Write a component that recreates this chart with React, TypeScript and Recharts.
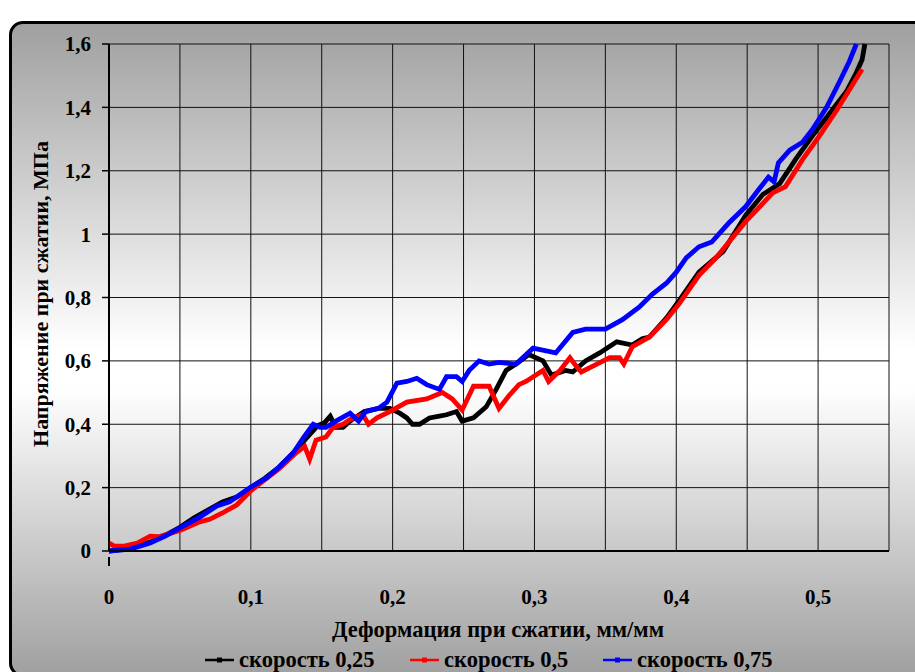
import React from 'react';
import { LineChart, Line, XAxis, YAxis, CartesianGrid } from 'recharts';

const FONT = '"Liberation Serif", "Times New Roman", serif';

const xTicks = [0, 0.05, 0.1, 0.15, 0.2, 0.25, 0.3, 0.35, 0.4, 0.45, 0.5, 0.55];
const yTicks = [0, 0.2, 0.4, 0.6, 0.8, 1, 1.2, 1.4, 1.6];

const xTitle = 'Деформация при сжатии, мм/мм';
const yTitle = 'Напряжение при сжатии, МПа';
const seriesNames = ['скорость 0,25', 'скорость 0,5', 'скорость 0,75'];
const seriesColors = ['#000000', '#ff0000', '#0000ff'];

// скорость 0,25
const blackX = [0, 0.01, 0.02, 0.03, 0.04, 0.05, 0.06, 0.07, 0.08, 0.09, 0.1, 0.11, 0.12, 0.13, 0.14, 0.147, 0.152, 0.156, 0.16, 0.165, 0.17, 0.18, 0.19, 0.198, 0.205, 0.21, 0.214, 0.219, 0.226, 0.232, 0.238, 0.245, 0.249, 0.257, 0.266, 0.273, 0.28, 0.287, 0.296, 0.306, 0.312, 0.322, 0.327, 0.336, 0.346, 0.358, 0.369, 0.376, 0.381, 0.393, 0.402, 0.416, 0.433, 0.449, 0.461, 0.473, 0.484, 0.496, 0.508, 0.52, 0.527, 0.531, 0.533];
const blackY = [0, 0.005, 0.015, 0.03, 0.05, 0.075, 0.105, 0.13, 0.155, 0.17, 0.2, 0.23, 0.265, 0.31, 0.36, 0.395, 0.405, 0.425, 0.39, 0.39, 0.41, 0.44, 0.45, 0.45, 0.435, 0.42, 0.4, 0.4, 0.42, 0.425, 0.43, 0.44, 0.41, 0.42, 0.455, 0.51, 0.57, 0.59, 0.62, 0.6, 0.555, 0.57, 0.565, 0.6, 0.625, 0.66, 0.65, 0.67, 0.675, 0.735, 0.79, 0.88, 0.945, 1.06, 1.125, 1.16, 1.235, 1.31, 1.38, 1.45, 1.51, 1.55, 1.6];

// скорость 0,5
const redX = [0, 0.004, 0.01, 0.02, 0.029, 0.035, 0.05, 0.064, 0.071, 0.08, 0.09, 0.1, 0.11, 0.12, 0.132, 0.138, 0.1415, 0.146, 0.153, 0.158, 0.165, 0.17, 0.179, 0.183, 0.189, 0.198, 0.21, 0.224, 0.235, 0.242, 0.249, 0.257, 0.268, 0.275, 0.282, 0.289, 0.294, 0.306, 0.31, 0.318, 0.325, 0.33, 0.333, 0.344, 0.353, 0.36, 0.363, 0.369, 0.381, 0.393, 0.402, 0.416, 0.428, 0.449, 0.468, 0.477, 0.489, 0.501, 0.513, 0.522, 0.531];
const redY = [0.025, 0.015, 0.015, 0.025, 0.047, 0.045, 0.065, 0.092, 0.1, 0.12, 0.145, 0.19, 0.225, 0.26, 0.31, 0.33, 0.29, 0.35, 0.36, 0.39, 0.4, 0.415, 0.43, 0.4, 0.42, 0.44, 0.47, 0.48, 0.5, 0.48, 0.445, 0.52, 0.52, 0.45, 0.49, 0.525, 0.535, 0.57, 0.535, 0.57, 0.61, 0.58, 0.565, 0.59, 0.61, 0.61, 0.59, 0.645, 0.675, 0.73, 0.78, 0.87, 0.925, 1.04, 1.13, 1.15, 1.235, 1.31, 1.39, 1.455, 1.52];

// скорость 0,75
const blueX = [0, 0.015, 0.029, 0.04, 0.05, 0.064, 0.076, 0.085, 0.099, 0.111, 0.12, 0.13, 0.137, 0.144, 0.149, 0.153, 0.16, 0.17, 0.176, 0.181, 0.19, 0.196, 0.203, 0.21, 0.217, 0.224, 0.233, 0.238, 0.245, 0.249, 0.254, 0.261, 0.268, 0.275, 0.287, 0.299, 0.315, 0.327, 0.336, 0.35, 0.362, 0.374, 0.383, 0.393, 0.4, 0.407, 0.416, 0.425, 0.437, 0.449, 0.458, 0.465, 0.469, 0.472, 0.48, 0.489, 0.496, 0.506, 0.515, 0.522, 0.527];
const blueY = [0, 0.006, 0.025, 0.048, 0.073, 0.107, 0.142, 0.155, 0.199, 0.23, 0.265, 0.31, 0.357, 0.4, 0.39, 0.39, 0.41, 0.435, 0.41, 0.44, 0.45, 0.47, 0.53, 0.535, 0.545, 0.525, 0.51, 0.55, 0.55, 0.535, 0.57, 0.6, 0.59, 0.595, 0.59, 0.64, 0.625, 0.69, 0.7, 0.7, 0.73, 0.77, 0.81, 0.845, 0.88, 0.925, 0.96, 0.975, 1.035, 1.087, 1.14, 1.18, 1.165, 1.225, 1.265, 1.29, 1.33, 1.4, 1.48, 1.545, 1.6];

const toPoints = (xs: number[], ys: number[]) => xs.map((x, i) => ({ x, y: ys[i] }));
const series = [toPoints(blackX, blackY), toPoints(redX, redY), toPoints(blueX, blueY)];

const fmt = (v: number) => String(Number(v.toFixed(2))).replace('.', ',');

const XTick = (props: any) => {
  const { x, y, payload } = props;
  const v = payload.value;
  const major = Math.abs(Math.round(v * 10) - v * 10) < 1e-6 && v < 0.55;
  if (!major) return null;
  return (
    <g>
      {v === 0 && <line x1={x} x2={x} y1={y - 2} y2={y + 7} stroke="#000" strokeWidth={2} />}
      <text x={x} y={y + 45} textAnchor="middle" fontFamily={FONT} fontWeight="bold" fontSize={21} fill="#000">
        {fmt(v)}
      </text>
    </g>
  );
};

const legendPos = [
  { icon: 205, text: 239 },
  { icon: 410, text: 444 },
  { icon: 603, text: 637 },
];

export default function App() {
  return (
    <div style={{ position: 'absolute', left: 0, top: 0, width: 915, height: 672, overflow: 'hidden', background: '#fff' }}>
      <div
        style={{
          position: 'absolute',
          left: 9,
          top: 21,
          width: 930,
          height: 650,
          border: '3px solid #000',
          borderRadius: 14,
          background: 'linear-gradient(to bottom, #a0a0a0 0%, #ffffff 50%, #ffffff 56%, #a0a0a0 100%)',
        }}
      />
      <div style={{ position: 'absolute', left: 0, top: 0 }}>
        <LineChart width={915} height={672} margin={{ top: 44, right: 26, bottom: 91, left: 49 }}>
          <CartesianGrid stroke="#111" strokeWidth={1} fill="none" />
          <XAxis
            type="number"
            dataKey="x"
            domain={[0, 0.55]}
            ticks={xTicks}
            interval={0}
            height={30}
            axisLine={{ stroke: '#000', strokeWidth: 2 }}
            tickLine={false}
            tick={<XTick />}
            allowDuplicatedCategory={false}
          />
          <YAxis
            type="number"
            dataKey="y"
            domain={[0, 1.6]}
            ticks={yTicks}
            interval={0}
            width={60}
            axisLine={{ stroke: '#000', strokeWidth: 2 }}
            tickLine={{ stroke: '#000', strokeWidth: 1.5 }}
            tickSize={7}
            tickMargin={11}
            tickFormatter={fmt}
            tick={{ fontFamily: FONT, fontWeight: 'bold', fontSize: 21, fill: '#000' }}
          />
          {series.map((d, i) => (
            <Line
              key={i}
              data={d}
              dataKey="y"
              type="linear"
              stroke={seriesColors[i]}
              strokeWidth={4.8}
              dot={false}
              isAnimationActive={false}
              name={seriesNames[i]}
            />
          ))}
        </LineChart>
      </div>
      <svg width={915} height={672} style={{ position: 'absolute', left: 0, top: 0, pointerEvents: 'none' }}>
        <text x={498} y={637} textAnchor="middle" fontFamily={FONT} fontWeight="bold" fontSize={22.5} fill="#000">
          {xTitle}
        </text>
        <text
          x={0}
          y={0}
          transform="translate(48 294) rotate(-90)"
          textAnchor="middle"
          fontFamily={FONT}
          fontWeight="bold"
          fontSize={22}
          fill="#000"
        >
          {yTitle}
        </text>
        {legendPos.map((p, i) => (
          <g key={i}>
            <line x1={p.icon} x2={p.icon + 29} y1={660} y2={660} stroke={seriesColors[i]} strokeWidth={2.5} />
            <rect x={p.icon + 12} y={657.5} width={5} height={5} fill={seriesColors[i]} />
            <text x={p.text} y={667} fontFamily={FONT} fontWeight="bold" fontSize={22.5} fill="#000">
              {seriesNames[i]}
            </text>
          </g>
        ))}
      </svg>
    </div>
  );
}
